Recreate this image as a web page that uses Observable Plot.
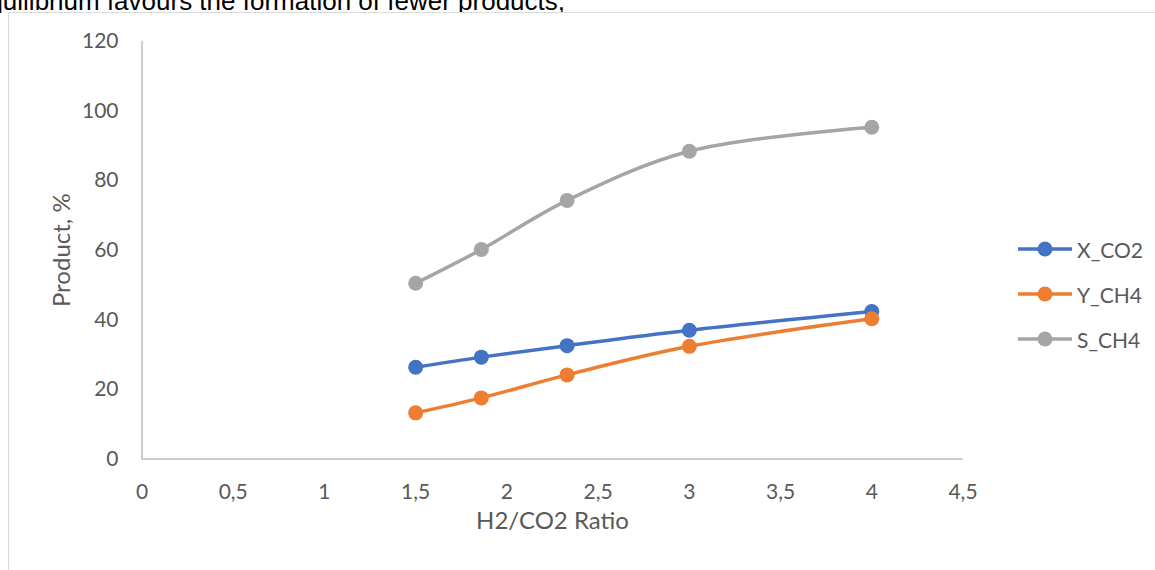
<!DOCTYPE html>
<html>
<head>
<meta charset="utf-8">
<script src="https://cdn.jsdelivr.net/npm/d3@7"></script>
<script src="https://cdn.jsdelivr.net/npm/@observablehq/plot@0.6"></script>
<style>
  html, body { margin: 0; padding: 0; background: #fff; width: 1155px; height: 570px; overflow: hidden; }
  #lead { position: absolute; left: 0; top: 0; }
  #box { position: absolute; left: 8px; top: 11.5px; width: 1300px; height: 700px;
         border-left: 1.5px solid #d9d9d9; border-top: 1.5px solid #d9d9d9; background: #fff; }
  #chart { position: absolute; left: 0; top: 0; }
  #legend { position: absolute; left: 1016px; top: 0; font-family: Lato, sans-serif; font-size: 21px; color: #595959; }
  .entry { position: absolute; left: 0; height: 20px; display: flex; align-items: center; white-space: nowrap; }
  .entry svg { display: block; }
</style>
</head>
<body>
<svg id="lead" width="1155" height="13">
  <text x="565" y="10" text-anchor="end" font-family="Liberation Sans, Arial, sans-serif" font-size="26" fill="#000">equilibrium favours the formation of fewer products,</text>
</svg>
<div id="box"></div>
<div id="chart"></div>
<div id="legend"></div>
<script>
// H2/CO2 feed ratio (x) and the three measured quantities, in %
const ratio = [1.5, 1.86, 2.33, 3, 4];
const xCO2 = [26.4, 29.3, 32.6, 37.0, 42.4];
const yCH4 = [13.3, 17.6, 24.2, 32.4, 40.3];
const sCH4 = [50.5, 60.2, 74.3, 88.4, 95.3];

const seriesNames = ["X_CO2", "Y_CH4", "S_CH4"];
const seriesValues = [xCO2, yCH4, sCH4];
const seriesColors = ["#4472C4", "#ED7D31", "#A5A5A5"];

const xTicks = [0, 0.5, 1, 1.5, 2, 2.5, 3, 3.5, 4, 4.5];
const yTicks = [0, 20, 40, 60, 80, 100, 120];

const xTitle = "H2/CO2 Ratio";
const yTitle = "Product, %";

// long-format table: one row per (series, ratio)
const rows = seriesNames.flatMap((name, i) =>
  ratio.map((r, j) => ({series: name, ratio: r, value: seriesValues[i][j]}))
);

const axisColor = "#c6c6c6";
const comma = d => String(d).replace(".", ",");

// each series draws its line, then its markers, in order
const seriesMarks = seriesNames.flatMap(name => {
  const data = rows.filter(d => d.series === name);
  return [
    Plot.line(data, {x: "ratio", y: "value", stroke: "series", strokeWidth: 3.5, curve: "catmull-rom"}),
    Plot.dot(data, {x: "ratio", y: "value", fill: "series", r: 7.5})
  ];
});

const chart = Plot.plot({
  width: 1155,
  height: 570,
  marginLeft: 141.5,
  marginRight: 192.5,
  marginTop: 40.7,
  marginBottom: 111.3,
  style: {fontFamily: "Lato, sans-serif", fontSize: "21px", color: "#595959", background: "transparent"},
  x: {domain: [0, 4.5]},
  y: {domain: [0, 120]},
  color: {domain: seriesNames, range: seriesColors},
  marks: [
    Plot.axisY({ticks: yTicks, tickSize: 0, tickPadding: 23.5, tickFormat: comma, label: null}),
    Plot.axisX({ticks: xTicks, tickSize: 0, tickPadding: 25, tickFormat: comma, label: null}),
    Plot.ruleX([0], {stroke: axisColor, strokeWidth: 1.75}),
    Plot.ruleY([0], {stroke: axisColor, strokeWidth: 1.75}),
    Plot.text([yTitle], {frameAnchor: "left", textAnchor: "middle", dx: -80, rotate: -90, text: d => d, fill: "#595959", fontSize: 24}),
    Plot.text([xTitle], {frameAnchor: "bottom", textAnchor: "middle", dy: 69.5, text: d => d, fill: "#595959", fontSize: 24}),
    ...seriesMarks
  ]
});
document.getElementById("chart").appendChild(chart);

// legend: line sample with a marker, then the series name
const legend = document.getElementById("legend");
const legendTop = [249, 294, 339];
seriesNames.forEach((name, i) => {
  const entry = document.createElement("div");
  entry.className = "entry";
  entry.style.top = (legendTop[i] - 10) + "px";
  entry.innerHTML =
    `<svg width="58" height="20"><line x1="2" x2="56" y1="10" y2="10" stroke="${seriesColors[i]}" stroke-width="3.5"/>` +
    `<circle cx="29" cy="10" r="7.5" fill="${seriesColors[i]}"/></svg>` +
    `<span style="margin-left:3px">${name}</span>`;
  legend.appendChild(entry);
});
</script>
</body>
</html>
